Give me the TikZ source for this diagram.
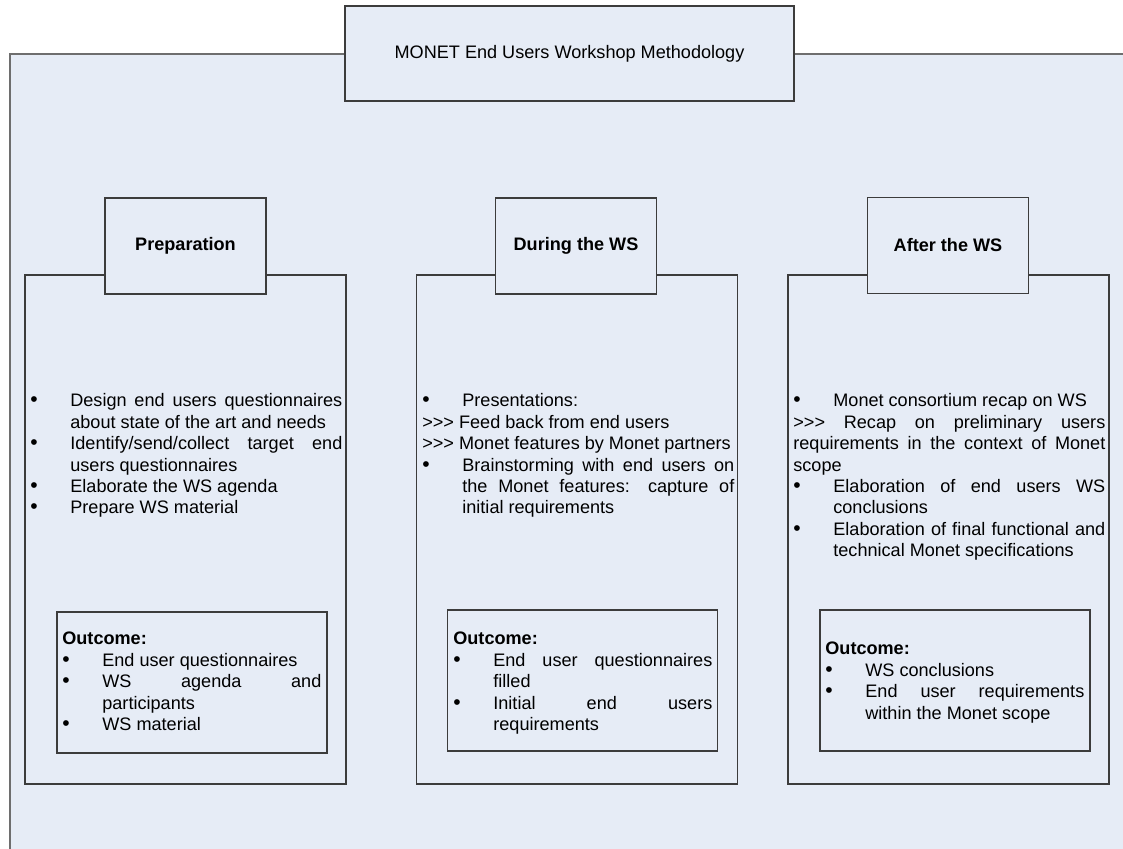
\documentclass[tikz,border=0pt]{standalone}
\usepackage{fontspec}
\setmainfont{Liberation Sans}[Ligatures=TeXOff]

\definecolor{boxfill}{HTML}{E6ECF6}
\definecolor{frameline}{HTML}{6E6E6E}
\definecolor{boxline}{HTML}{3C3C3C}

\newcommand{\bitem}[1]{\par\noindent\hangindent=0.8cm\hangafter=1\makebox[0.8cm][l]{\fontsize{12}{12}\selectfont\textbullet}#1\par}
\newcommand{\aitem}[1]{\par\noindent #1\par}

\begin{document}
\begin{tikzpicture}

	\tikzstyle{box}=[draw=boxline, fill=boxfill, line width=0.8pt, inner sep=0pt]
	\tikzstyle{frame}=[box, draw=frameline, line width=1pt, anchor=north west]
	\tikzstyle{head}=[box, font=\fontsize{10.3}{12.2}\selectfont\bfseries, minimum width=3.22cm, minimum height=1.92cm]
	\tikzstyle{col}=[box, minimum width=6.42cm, minimum height=10.18cm]
	\tikzstyle{outc}=[box, minimum width=5.4cm, minimum height=2.82cm]
	\tikzstyle{txt}=[anchor=north west, inner sep=0pt, text width=6.24cm, align=justify, font=\fontsize{10.3}{12.2}\selectfont]
	\tikzstyle{otxt}=[txt, text width=5.18cm]

	\clip (0, 0) rectangle (22.46, 16.98);

	\coordinate (frame) at (0.18, 15.92);
	\coordinate (title) at (11.39, 15.91);

	\coordinate (c_1) at (3.71, 6.39); % PREPARATION
	\coordinate (c_2) at (11.54, 6.39); % DURING
	\coordinate (c_3) at (18.97, 6.39); % AFTER
	\coordinate (h_1) at (3.71, 12.06); % PREPARATION
	\coordinate (h_2) at (11.52, 12.06); % DURING
	\coordinate (h_3) at (18.96, 12.07); % AFTER
	\coordinate (o_1) at (3.84, 3.33); % PREPARATION
	\coordinate (o_2) at (11.65, 3.37); % DURING
	\coordinate (o_3) at (19.10, 3.37); % AFTER
	\coordinate (t_1) at (0.60, 9.28); % PREPARATION
	\coordinate (t_2) at (8.44, 9.28); % DURING
	\coordinate (t_3) at (15.86, 9.28); % AFTER
	\coordinate (u_1) at (1.24, 4.52); % PREPARATION
	\coordinate (u_2) at (9.06, 4.52); % DURING
	\coordinate (u_3) at (16.50, 4.32); % AFTER

	\node[frame, minimum width=23.3cm, minimum height=17cm] (frame) at (frame) {};
	\node[box, font=\fontsize{10.3}{12.2}\selectfont, minimum width=8.98cm, minimum height=1.9cm] (title) at (title) {MONET End Users Workshop Methodology};

	\node[col] (c_1) at (c_1) {}; % PREPARATION
	\node[col] (c_2) at (c_2) {}; % DURING
	\node[col] (c_3) at (c_3) {}; % AFTER

	\node[head] (h_1) at (h_1) {Preparation}; % PREPARATION
	\node[head] (h_2) at (h_2) {During the WS}; % DURING
	\node[head] (h_3) at (h_3) {After the WS}; % AFTER

	\node[txt] (t_1) at (t_1) {%
		\bitem{Design end users questionnaires\linebreak about state of the art and needs}%
		\bitem{Identify/send/collect target end\linebreak users questionnaires}%
		\bitem{Elaborate the WS agenda}%
		\bitem{Prepare WS material}}; % PREPARATION
	\node[txt] (t_2) at (t_2) {%
		\bitem{Presentations:}%
		\aitem{>>> Feed back from end users}%
		\aitem{>>> Monet features by Monet partners}%
		\bitem{Brainstorming with end users on\linebreak the Monet features: capture of\linebreak initial requirements}}; % DURING
	\node[txt] (t_3) at (t_3) {%
		\bitem{Monet consortium recap on WS}%
		\aitem{>>> Recap on preliminary users\linebreak requirements in the context of Monet\linebreak scope}%
		\bitem{Elaboration of end users WS\linebreak conclusions}%
		\bitem{Elaboration of final functional and\linebreak technical Monet specifications}}; % AFTER

	\node[outc] (o_1) at (o_1) {}; % PREPARATION
	\node[outc] (o_2) at (o_2) {}; % DURING
	\node[outc] (o_3) at (o_3) {}; % AFTER

	\node[otxt] (u_1) at (u_1) {%
		\aitem{\textbf{Outcome:}}%
		\bitem{End user questionnaires}%
		\bitem{WS agenda and\linebreak participants}%
		\bitem{WS material}}; % PREPARATION
	\node[otxt] (u_2) at (u_2) {%
		\aitem{\textbf{Outcome:}}%
		\bitem{End user questionnaires\linebreak filled}%
		\bitem{Initial end users\linebreak requirements}}; % DURING
	\node[otxt] (u_3) at (u_3) {%
		\aitem{\textbf{Outcome:}}%
		\bitem{WS conclusions}%
		\bitem{End user requirements\linebreak within the Monet scope}}; % AFTER
\end{tikzpicture}
\end{document}
